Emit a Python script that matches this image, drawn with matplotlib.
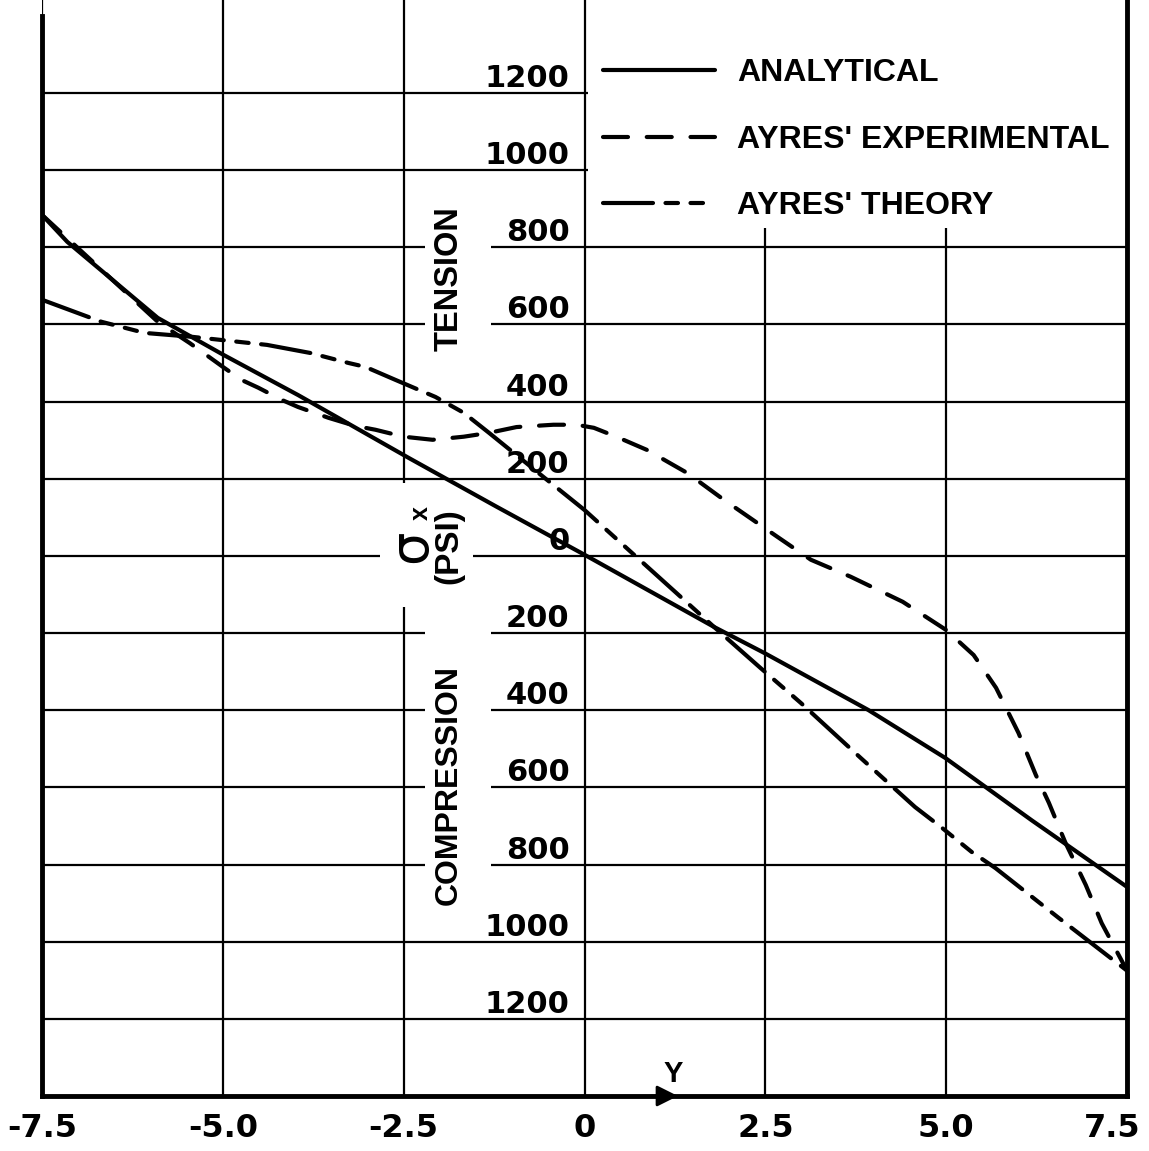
import matplotlib.pyplot as plt
import matplotlib.transforms as mtransforms
from matplotlib.patches import Rectangle

# distance across the section (Y) and stress values (psi)
analytical_y = [-7.5, -7.15, -5.9, -5.0, -3.96, -2.43, -1.22, 0.0, 1.79, 2.49, 3.92, 4.99, 6.18, 7.5]
analytical_s = [884, 814, 617, 522, 417, 254, 128, 3, -184, -252, -399, -524, -685, -858]

exp_y = [-7.5, -5.9, -5.63, -5.46, -5.17, -5.0, -4.74, -4.51, -4.18, -3.96, -3.54, -3.17,
         -2.89, -2.5, -2.1, -1.67, -1.32, -0.94, -0.43, -0.11, 0.13, 0.44, 0.86, 1.42,
         1.93, 2.67, 3.13, 3.68, 4.4, 5.0, 5.38, 5.69, 6.0, 6.24, 6.42, 6.65, 6.93, 7.15, 7.5]
exp_s = [884, 607, 573, 552, 513, 490, 456, 436, 404, 386, 358, 337,
         327, 309, 301, 309, 319, 334, 340, 340, 332, 309, 275, 215,
         145, 49, -10, -54, -119, -192, -257, -342, -459, -568, -640, -744, -853, -952, -1075]

theory_y = [-7.5, -6.68, -6.08, -5.43, -4.39, -3.79, -3.26, -3.03, -2.61, -2.06, -1.67, -1.32,
            -0.57, 0.0, 0.72, 1.79, 2.43, 2.99, 3.82, 4.57, 4.93, 5.35, 5.68, 6.56, 7.5]
theory_s = [664, 607, 578, 568, 547, 526, 500, 490, 456, 412, 371, 319,
            205, 119, -3, -184, -290, -381, -524, -651, -703, -767, -809, -939, -1075]

x_ticks = [-7.5, -5.0, -2.5, 0, 2.5, 5.0, 7.5]
x_labels = ['-7.5', '-5.0', '-2.5', '0', '2.5', '5.0', '7.5']
stress_ticks = [1200, 1000, 800, 600, 400, 200, 0, -200, -400, -600, -800, -1000, -1200]

word_font = 'Liberation Sans'

fig = plt.figure(figsize=(11.49, 11.51), dpi=100)
ax = fig.add_axes([42/1149, 1 - 1096/1151, 1085/1149, 1096/1151])
ax.set_xlim(-7.5, 7.5)
ax.set_ylim(-1400, 1441)

ax.set_xticks(x_ticks)
ax.set_xticklabels(x_labels, fontsize=23, fontweight='bold', family='DejaVu Sans')
ax.tick_params(axis='x', length=0, pad=12)
# last label would run off the page, pull it in like the original
last = ax.get_xticklabels()[-1]
last.set_ha('right')
last.set_transform(last.get_transform() + mtransforms.ScaledTranslation(0.14, 0, fig.dpi_scale_trans))
ax.set_yticks(stress_ticks)
ax.tick_params(axis='y', length=0, labelleft=False)
ax.grid(True, color='black', lw=1.6)
ax.set_axisbelow(True)

ax.spines['top'].set_visible(False)
for s in ['left', 'right', 'bottom']:
    ax.spines[s].set_linewidth(3.5)
ax.spines['left'].set_bounds(-1400, 1400)

# white patches where the draftsman broke the grid for lettering
ax.add_patch(Rectangle((0.05, 850), 7.45, 600, fc='white', ec='none', zorder=1))
ax.add_patch(Rectangle((-2.2, 480), 0.91, 460, fc='white', ec='none', zorder=1))
ax.add_patch(Rectangle((-2.2, -950), 0.91, 800, fc='white', ec='none', zorder=1))
ax.add_patch(Rectangle((-2.83, -132), 1.29, 322, fc='white', ec='none', zorder=1))

l1, = ax.plot(analytical_y, analytical_s, color='black', lw=3, zorder=3,
              solid_capstyle='round', label='ANALYTICAL')
l2, = ax.plot(exp_y, exp_s, color='black', lw=3, zorder=3, linestyle=(0, (6, 4.5)),
              dash_capstyle='round', label="AYRES' EXPERIMENTAL")
l3, = ax.plot(theory_y, theory_s, color='black', lw=3, zorder=3,
              linestyle=(0, (12, 3, 3, 3, 3, 3)), dash_capstyle='round',
              label="AYRES' THEORY")

# stress labels sit just above each grid line, left of the Y = 0 line
for v in stress_ticks:
    ax.annotate(str(abs(v)), xy=(0, v), xytext=(-10.8, 4.3), textcoords='offset points',
                ha='right', va='baseline', fontsize=22, fontweight='bold', zorder=4)

ax.text(-1.87, 720, 'TENSION', rotation=90, ha='center', va='center',
        fontsize=23.5, fontweight='bold', family=word_font, zorder=4)
ax.text(-1.87, -594, 'COMPRESSION', rotation=90, ha='center', va='center',
        fontsize=23, fontweight='bold', family=word_font, zorder=4)
ax.text(-2.40, 26, 'σ', rotation=90, ha='center', va='center', fontsize=38, zorder=4)
ax.text(-2.26, 112, 'x', rotation=90, ha='center', va='center', fontsize=18,
        fontweight='bold', family=word_font, zorder=4)
ax.text(-1.87, 26, '(PSI)', rotation=90, ha='center', va='center',
        fontsize=24, fontweight='bold', family=word_font, zorder=4)

ax.text(1.22, -1343, 'Y', ha='center', va='center', fontsize=21, fontweight='bold',
        family=word_font)
ax.annotate('', xy=(1.33, -1400), xytext=(0.88, -1400),
            arrowprops=dict(arrowstyle='-|>', color='black', lw=2, mutation_scale=32),
            annotation_clip=False)

ax.legend(handles=[l1, l2, l3], loc='upper left', frameon=False,
          bbox_to_anchor=(603/1149, 1 - 58/1151), bbox_transform=fig.transFigure,
          borderpad=0, borderaxespad=0, handlelength=3.5, handletextpad=0.7,
          labelspacing=1.15, prop={'family': word_font, 'weight': 'bold', 'size': 23})

fig.savefig('out.png', dpi=100)
